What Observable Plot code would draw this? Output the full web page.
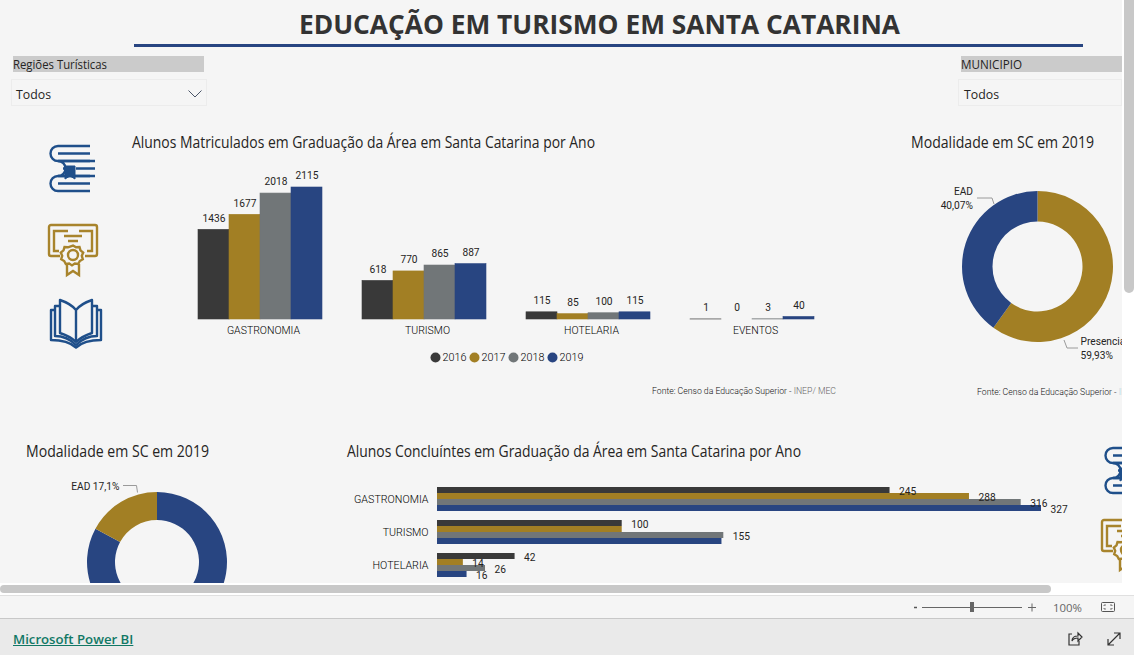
<!DOCTYPE html>
<html lang="pt"><head><meta charset="utf-8">
<script src="https://cdn.jsdelivr.net/npm/d3@7"></script>
<script src="https://cdn.jsdelivr.net/npm/@observablehq/plot@0.6"></script>
<style>
html,body{margin:0;padding:0;width:1134px;height:655px;overflow:hidden;background:#fff;font-family:"Open Sans",sans-serif;color:#252423}
#report{position:absolute;left:0;top:0;width:1122px;height:583px;background:#f5f5f5;overflow:hidden}
.abs{position:absolute;white-space:nowrap;line-height:1}
#report svg{position:absolute;max-width:none;overflow:visible;background:transparent}
</style></head><body>
<div id="report"></div>
<div class="abs" style="left:1124px;top:0;width:10px;height:293px;background:#c8c8c8;border-radius:0 0 5px 5px"></div>
<div class="abs" style="left:0;top:585px;width:1051px;height:8px;background:#c8c8c8;border-radius:4px"></div>
<div class="abs" style="left:0;top:595px;width:1134px;height:23px;background:#f5f5f5;border-top:1px solid #e0e0e0;box-sizing:border-box"></div>
<div class="abs" style="left:0;top:618px;width:1134px;height:37px;background:#eaeaea;border-top:1px solid #c8c8c8;box-sizing:border-box"></div>
<script>
// ---------- data ----------
const years = ["2016", "2017", "2018", "2019"];
const courses = ["GASTRONOMIA", "TURISMO", "HOTELARIA", "EVENTOS"];
const matGastronomia = [1436, 1677, 2018, 2115];
const matTurismo = [618, 770, 865, 887];
const matHotelaria = [115, 85, 100, 115];
const matEventos = [1, 0, 3, 40];
const conGastronomia = [245, 288, 316, 327];
const conTurismo = [100, 100, 155, 154];
const conHotelaria = [42, 14, 26, 16];
const conCourses = ["GASTRONOMIA", "TURISMO", "HOTELARIA"];
const conHiddenLabels = ["TURISMO 2017", "TURISMO 2019"];
const modalidadeAlunos = ["Presencial", "EAD"];
const modalidadeAlunosPct = [59.93, 40.07];
const modalidadeConcluintes = ["Presencial", "EAD"];
const modalidadeConcluintesPct = [82.9, 17.1];
const yearColors = ["#393939", "#a27f24", "#717678", "#284581"];
const BLUE = "#284581", GOLD = "#a27f24";

const report = document.getElementById("report");
const DIN = "Roboto, sans-serif";
const put = (n, l, t) => { n.style.left = l + "px"; n.style.top = t + "px"; report.appendChild(n); return n; };
function label(text, l, cy, css = "", target = 0) {
  const d = document.createElement("div");
  d.className = "abs";
  d.innerHTML = text;
  d.style.cssText = `left:${l}px;top:${cy}px;transform:translateY(-50%);transform-origin:0 50%;${css}`;
  report.appendChild(d);
  if (target) d.style.transform = `translateY(-50%) scaleX(${target / d.getBoundingClientRect().width})`;
  return d;
}
const base = {style: {background: "transparent", color: "#252423"}};
const table = (rows, names) => rows.flatMap((vals, i) => vals.map((value, j) => ({course: names[i], year: years[j], value})));

// ---------- header ----------
label("EDUCAÇÃO EM TURISMO EM SANTA CATARINA", 299, 23, "font:700 27px 'Open Sans';color:#333", 601);
report.insertAdjacentHTML("beforeend", `<div class="abs" style="left:134px;top:44px;width:949px;height:3px;background:${BLUE}"></div>`);
function slicer(name, hl, hw, bl, bw, chevron, nameW) {
  report.insertAdjacentHTML("beforeend", `<div class="abs" style="left:${hl}px;top:56px;width:${hw}px;height:16px;background:#cbcbcb"></div>
  <div class="abs" style="left:${bl}px;top:79px;width:${bw}px;height:27px;border:1px solid #ececec;box-sizing:border-box"></div>`);
  label(name, hl, 63.5, "font:12px 'Open Sans'", nameW);
  label("Todos", bl + 5.5, 93.5, "font:13px 'Open Sans'", 35);
  if (chevron) report.insertAdjacentHTML("beforeend", `<svg width="16" height="10" style="left:187px;top:89px"><path d="M1.5 1.5L8 8L14.5 1.5" fill="none" stroke="#4a5568" stroke-width="1"/></svg>`);
}
slicer("Regiões Turísticas", 13, 191, 10.5, 196, true, 94);
slicer("MUNICIPIO", 961, 161, 958, 164, false, 61);

const TITLE = "font:15.4px 'Open Sans'";
label("Alunos Matriculados em Graduação da Área em Santa Catarina por Ano", 132, 141.5, TITLE, 463);
label("Modalidade em SC em 2019", 911, 141.5, TITLE, 183);
label("Modalidade em SC em 2019", 26, 450.5, TITLE, 183);
label("Alunos Concluíntes em Graduação da Área em Santa Catarina por Ano", 347, 450.5, TITLE, 454);

// ---------- icons ----------
const stack = `<g fill="none" stroke-width="2.4"><path d="M50 6H18a7.5 7.5 0 0 0 0 15H50M18 13.5H50"/><path d="M18 21H55M18 21a7.5 7.5 0 0 1 0 15M18 36H55M23 28.5H25M36 28.5H55"/><path d="M50 36H18a7.5 7.5 0 0 0 0 15H50M18 43.5H50"/></g><path d="M25 26H35V39L30 36L25 39Z"/>`;
const cert = `<g fill="none" stroke-width="2.4"><path d="M20 36H11a2 2 0 0 1-2-2V7a2 2 0 0 1 2-2H55a2 2 0 0 1 2 2V34a2 2 0 0 1-2 2H45"/><path d="M19 31H14V11H28M39 11H52V31H47"/><path d="M24 16H42M28 21H38"/><circle cx="33" cy="35" r="5"/><path d="M33 25.5l3 1.8 3.5-.2 1 3.3 2.7 2.2-1.4 3.2 1 3.4-3 1.8-1.6 3-3.4-.4-2.8 1.8-2.8-1.8-3.4.4-1.6-3-3-1.8 1-3.4-1.4-3.2 2.7-2.2 1-3.3 3.5.2z"/><path d="M27 44V55L33 51L39 55V44"/></g>`;
const book = `<g fill="none" stroke-width="2.4" stroke-linejoin="round"><path d="M36 15C32 10 26 7 20 5V38C26 40 32 43 36 47C40 43 46 40 52 38V5C46 7 40 10 36 15V47"/><path d="M20 11H15V41C22 41 30 44 36 50C42 44 50 41 57 41V11H52"/><path d="M15 15H11V45C20 45 30 47 36 52.5C42 47 52 45 61 45V15H57"/></g>`;
function icon(markup, color, ox, oy) {
  report.insertAdjacentHTML("beforeend", `<svg width="72" height="62" style="left:${ox}px;top:${oy}px" stroke="${color}" fill="${color}">${markup}</svg>`);
}
const ICON_BLUE = "#1f4f8a", ICON_GOLD = "#a8842c";
icon(stack, ICON_BLUE, 40, 140);
icon(cert, ICON_GOLD, 40, 220);
icon(book, ICON_BLUE, 40, 295);
icon(stack, ICON_BLUE, 1095, 442);
icon(cert, ICON_GOLD, 1092.7, 515);

// ---------- Matriculados ----------
const matData = table([matGastronomia, matTurismo, matHotelaria, matEventos], courses);
const colorScale = {type: "ordinal", domain: years, range: yearColors};
put(Plot.plot({
  ...base, width: 680, height: 190, marginLeft: 26, marginRight: 35, marginTop: 27, marginBottom: 31,
  x: {domain: years, padding: 0, axis: null},
  y: {domain: [0, 2115], axis: null},
  fx: {domain: courses, paddingInner: 38 / 164, paddingOuter: 0, label: null},
  color: colorScale,
  marks: [
    Plot.barY(matData.filter(d => d.value > 0), {x: "year", y: "value", fx: "course", fill: "year", stroke: "year", strokeWidth: 0.6}),
    Plot.text(matData, {x: "year", y: "value", fx: "course", text: d => String(d.value), dy: -11.5, fontSize: 10.2, fontFamily: DIN, fill: "#252423"}),
    Plot.axisFx({anchor: "bottom", tickSize: 0, tickPadding: 7, dx: 3, fontSize: 10.5, fontFamily: DIN, fontWeight: 300, fill: "#000", label: null})
  ]
}), 170, 160);

// legend
put(Plot.plot({
  ...base, width: 180, height: 20, marginLeft: 10, marginRight: 50.5, marginTop: 0, marginBottom: 0,
  x: {type: "point", domain: years, padding: 0, axis: null},
  color: colorScale,
  marks: [
    Plot.dot(years, {x: d => d, frameAnchor: "middle", fill: d => d, r: 5, stroke: null}),
    Plot.text(years, {x: d => d, frameAnchor: "middle", text: d => d, dx: 7, textAnchor: "start", fontSize: 10.8, fontFamily: DIN, fontWeight: 300, fill: "#000"})
  ]
}), 424, 347);

const FONTE = "font:300 8.8px Roboto;color:#111";
label(`Fonte: Censo da Educação Superior - <span style="color:#666">INEP/ MEC</span>`, 652, 391, FONTE, 184);
label(`Fonte: Censo da Educação Superior - <span style="color:#9fd0e0">INEP/ MEC</span>`, 977, 392, FONTE, 184);

// ---------- donuts ----------
function donut(names, pcts, colors, outer, inner, leader, texts, left, top, w, h) {
  const rows = names.map((name, i) => ({name, pct: pcts[i]}));
  const pie = d3.pie().sort(null).value(d => d.pct)(rows);
  const arc = d3.arc().innerRadius(inner).outerRadius(outer);
  const render = (index, scales, values, dims) => {
    const g = d3.create("svg:g").attr("transform", `translate(${dims.width / 2},${dims.height / 2})`);
    for (const i of index) g.append("path").attr("d", arc(pie[i])).attr("fill", values.fill[i]);
    for (const l of leader) g.append("path").attr("d", l).attr("fill", "none").attr("stroke", "#9a9a9a").attr("stroke-width", 1);
    return g.node();
  };
  put(Plot.plot({
    ...base, width: w, height: h, margin: 0,
    color: {type: "ordinal", domain: names, range: colors},
    marks: [
      Plot.dot(rows, {fill: "name", frameAnchor: "middle", render}),
      ...texts.map(t => Plot.text([t.text], {frameAnchor: "middle", text: d => d, dx: t.dx, dy: t.dy, textAnchor: t.anchor, fontSize: 10.2, fontFamily: DIN, fill: "#252423", style: {letterSpacing: ".45px"}}))
    ]
  }), left, top);
}
const pt = v => String(v).replace(".", ",") + "%";
donut(modalidadeAlunos, modalidadeAlunosPct, [GOLD, BLUE], 75.5, 45,
  ["M-60.5 -68.5H-45.5L-43.5 -62.5", "M26.5 73.5L29.5 81.5H40.5"],
  [{text: "EAD", dx: -65, dy: -75.5, anchor: "end"}, {text: pt(modalidadeAlunosPct[1]), dx: -65, dy: -61.5, anchor: "end"},
   {text: modalidadeAlunos[0], dx: 42.5, dy: 74.5, anchor: "start"}, {text: pt(modalidadeAlunosPct[0]), dx: 42.5, dy: 88.5, anchor: "start"}],
  900, 175, 275, 183);
donut(modalidadeConcluintes, modalidadeConcluintesPct, [BLUE, GOLD], 70, 42,
  ["M-34 -76.5H-20.5L-19.5 -69.5"],
  [{text: "EAD " + pt(modalidadeConcluintesPct[1]), dx: -38, dy: -75.5, anchor: "end"}],
  57, 462, 200, 200);

// ---------- Concluintes ----------
const conData = table([conGastronomia, conTurismo, conHotelaria], conCourses);
put(Plot.plot({
  ...base, width: 782, height: 113, marginLeft: 97, marginRight: 81, marginTop: 16, marginBottom: 5,
  x: {domain: [0, 327], axis: null},
  y: {domain: years, padding: 0, axis: null},
  fy: {domain: conCourses, paddingInner: 7.6 / 33.3, paddingOuter: 0, label: null},
  color: colorScale,
  marks: [
    Plot.barX(conData, {y: "year", x: "value", fy: "course", fill: "year"}),
    Plot.text(conData.filter(d => !conHiddenLabels.includes(d.course + " " + d.year)), {y: "year", x: "value", fy: "course", text: d => String(d.value), dx: 9, dy: 1, textAnchor: "start", fontSize: 10.2, fontFamily: DIN, fill: "#252423"}),
    Plot.axisFy({anchor: "left", tickSize: 0, tickPadding: 9, dy: 0.8, fontSize: 10.7, fontFamily: DIN, fontWeight: 300, fill: "#000", label: null})
  ]
}), 340, 470);

// ---------- footer ----------
document.body.insertAdjacentHTML("beforeend", `
<a class="abs" style="left:13px;top:630px;font:600 13.2px 'Open Sans';color:#117865;text-decoration:underline">Microsoft Power BI</a>
<svg class="abs" width="240" height="20" style="left:910px;top:597px">
<path d="M4 10.5H7" stroke="#555" stroke-width="1.5"/><path d="M12 10.5H112" stroke="#666"/><rect x="60" y="5" width="4" height="10" fill="#666"/>
<path d="M118 10.5H126M122 6.5V14.5" stroke="#666"/></svg>
<div class="abs" style="left:1053px;top:600px;font:11.4px 'Open Sans';color:#666">100%</div>
<svg class="abs" width="18" height="14" style="left:1100px;top:601px"><rect x="1.5" y="1.5" width="13" height="9" rx="1" fill="none" stroke="#555"/><path d="M4 5V4H6M10 4H12V5M4 7V8H6M10 8H12V7" fill="none" stroke="#555" stroke-width=".8"/></svg>
<svg class="abs" width="18" height="18" style="left:1066px;top:630px"><path d="M6 4H3V15H13V11" fill="none" stroke="#333" stroke-width="1.2"/><path d="M6 11C6 7 9 6 12 6V3L16 7L12 11V8C9 8 7 9 6 11Z" fill="none" stroke="#333" stroke-width="1.2"/></svg>
<svg class="abs" width="18" height="18" style="left:1105px;top:630px"><path d="M3 15L15 3M9 3H15V9M3 9V15H9" fill="none" stroke="#333" stroke-width="1.2"/></svg>`);
</script></body></html>
